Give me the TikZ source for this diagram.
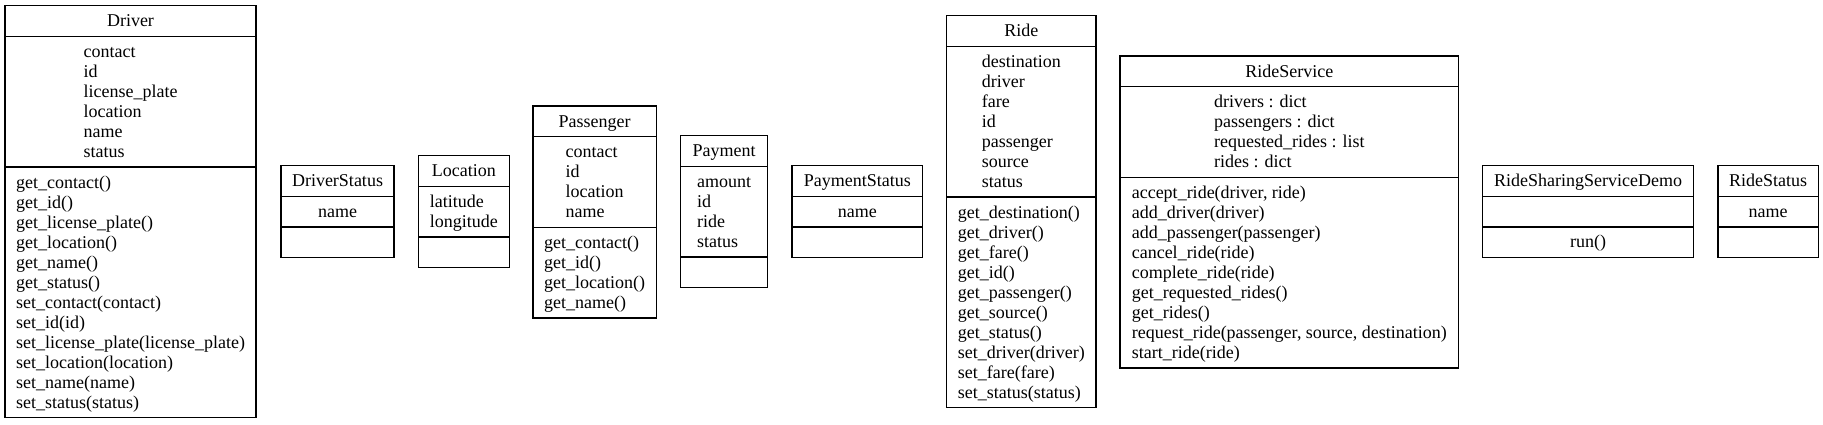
\documentclass[tikz,border=0pt]{standalone}
\usepackage{fontspec}
\setmainfont{Liberation Serif}
\newcommand\ls{\rule[-4.3pt]{0pt}{20pt}}
\newcommand\UMLbox[9]{%
  \node[ttl, minimum width=#4pt, anchor=north] (#1T) at (#2,#3) {\ls #5};
  \node[cmp, minimum width=#4pt, minimum height=#6pt] (#1A) at (#1T.south) {#7};
  \node[cmp, minimum width=#4pt, minimum height=#8pt] (#1M) at (#1A.south) {#9};}
\begin{document}
\begin{tikzpicture}[x=1pt,y=-1pt,
  box/.style={draw=black, line width=1.3pt, inner sep=0pt, outer sep=0pt,
              font=\fontsize{18}{20}\selectfont, minimum height=30.6pt},
  ttl/.style={box, align=center},
  cmp/.style={box, anchor=north, align=left}]
\useasboundingbox (0,0) rectangle (1823,424);

\UMLbox{drv}{130.5}{5.7}{251}{Driver}{130.7}%
 {\ls contact\\\ls id\\\ls license\_plate\\\ls location\\\ls name\\\ls status}{250.7}%
 {\ls get\_contact()\\\ls get\_id()\\\ls get\_license\_plate()\\\ls get\_location()\\\ls get\_name()\\\ls get\_status()\\\ls set\_contact(contact)\\\ls set\_id(id)\\\ls set\_license\_plate(license\_plate)\\\ls set\_location(location)\\\ls set\_name(name)\\\ls set\_status(status)}

\UMLbox{dst}{337.5}{165.7}{113}{DriverStatus}{30.6}{\ls name}{30.6}{}

\UMLbox{loc}{463.8}{155.7}{91}{Location}{50.7}{\ls latitude\\\ls longitude}{30.6}{}

\UMLbox{pas}{594.65}{106}{123.3}{Passenger}{90.7}%
 {\ls contact\\\ls id\\\ls location\\\ls name}{90.7}%
 {\ls get\_contact()\\\ls get\_id()\\\ls get\_location()\\\ls get\_name()}

\UMLbox{pay}{724}{135.7}{86.6}{Payment}{90.7}%
 {\ls amount\\\ls id\\\ls ride\\\ls status}{30.6}{}

\UMLbox{pst}{857.35}{165.7}{130.7}{PaymentStatus}{30.6}{\ls name}{30.6}{}

\UMLbox{rid}{1021.35}{15.7}{149.3}{Ride}{150.7}%
 {\ls destination\\\ls driver\\\ls fare\\\ls id\\\ls passenger\\\ls source\\\ls status}{210.7}%
 {\ls get\_destination()\\\ls get\_driver()\\\ls get\_fare()\\\ls get\_id()\\\ls get\_passenger()\\\ls get\_source()\\\ls get\_status()\\\ls set\_driver(driver)\\\ls set\_fare(fare)\\\ls set\_status(status)}

\UMLbox{rsv}{1289.35}{56}{338.7}{RideService}{90.7}%
 {\ls drivers : dict\\\ls passengers : dict\\\ls requested\_rides : list\\\ls rides : dict}{190.7}%
 {\ls accept\_ride(driver, ride)\\\ls add\_driver(driver)\\\ls add\_passenger(passenger)\\\ls cancel\_ride(ride)\\\ls complete\_ride(ride)\\\ls get\_requested\_rides()\\\ls get\_rides()\\\ls request\_ride(passenger, source, destination)\\\ls start\_ride(ride)}

\UMLbox{rsd}{1588}{165.7}{210.6}{RideSharingServiceDemo}{30.6}{}{30.6}{\ls run()}

\UMLbox{rst}{1768.15}{165.7}{100.3}{RideStatus}{30.6}{\ls name}{30.6}{}
\end{tikzpicture}
\end{document}
